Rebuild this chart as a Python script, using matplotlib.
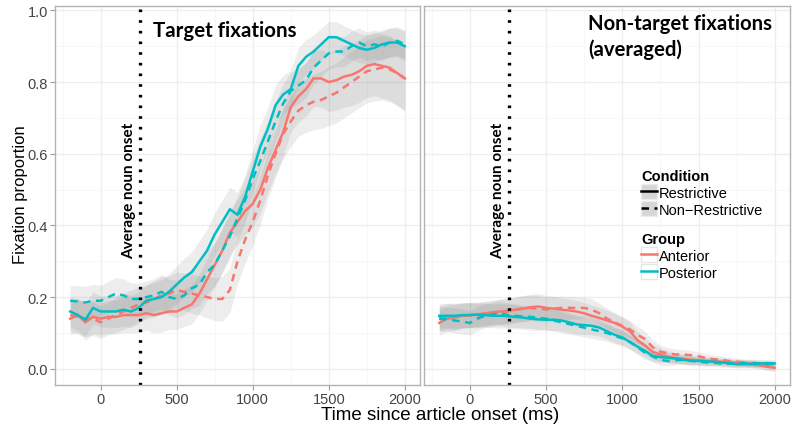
import numpy as np
import matplotlib
matplotlib.use("Agg")
import matplotlib.pyplot as plt
from matplotlib.patches import Rectangle
from matplotlib.lines import Line2D

# ---------------- data ----------------
time_ms = list(range(-200, 2001, 50))

# Target fixations
tgt_post_restr = [.16, .15, .137, .17, .16, .16, .16, .165, .16, .17, .19, .195, .20, .215, .235, .255, .27, .30, .33, .375,
                  .41, .445, .43, .48, .55, .62, .67, .735, .765, .78, .845, .87, .885, .905, .925, .925, .915, .905, .895,
                  .89, .895, .905, .91, .91, .90]
tgt_post_nonr = [.19, .188, .185, .19, .19, .20, .21, .205, .195, .195, .20, .205, .215, .20, .195, .205, .225, .235, .27, .29,
                 .33, .37, .42, .47, .53, .58, .635, .69, .74, .775, .79, .805, .84, .86, .88, .885, .885, .90, .91,
                 .90, .905, .90, .91, .915, .905]
tgt_ant_restr = [.14, .15, .13, .145, .14, .145, .145, .15, .15, .15, .155, .15, .155, .16, .16, .17, .18, .21, .25, .29,
                 .33, .38, .41, .44, .46, .50, .56, .61, .66, .73, .76, .78, .81, .81, .80, .805, .815, .82, .83,
                 .845, .85, .845, .84, .825, .81]
tgt_ant_nonr = [.15, .145, .14, .14, .13, .14, .15, .16, .17, .18, .185, .195, .205, .21, .22, .215, .21, .205, .20, .195,
                .195, .22, .30, .36, .41, .47, .54, .60, .655, .69, .72, .735, .745, .75, .76, .77, .785, .80, .815,
                .83, .835, .84, .835, .825, .81]

# Non-target fixations (averaged)
nt_ant_restr = [.128, .14, .143, .148, .15, .152, .155, .158, .16, .162, .165, .168, .172, .174, .17, .168, .165, .163, .16,
                .155, .148, .142, .135, .128, .118, .105, .08, .065, .047, .04, .034, .03, .028, .025, .024, .022, .021,
                .02, .018, .017, .015, .012, .01, .006, .003]
nt_ant_nonr = [.14, .148, .145, .148, .15, .148, .152, .155, .158, .16, .165, .168, .17, .168, .166, .168, .17, .17, .17,
               .17, .165, .155, .14, .13, .12, .11, .095, .083, .06, .048, .043, .04, .04, .038, .035, .03, .027,
               .025, .022, .02, .018, .015, .012, .008, .005]
nt_post_restr = [.148, .148, .148, .15, .15, .151, .15, .148, .148, .147, .145, .143, .14, .138, .137, .137, .135, .13, .124,
                 .122, .12, .115, .105, .095, .088, .075, .062, .05, .036, .033, .031, .029, .025, .023, .022, .021, .02,
                 .018, .016, .013, .013, .014, .015, .016, .015]
nt_post_nonr = [.14, .138, .135, .132, .128, .14, .148, .152, .155, .15, .148, .146, .145, .142, .14, .135, .13, .125, .12,
                .115, .11, .105, .10, .092, .085, .075, .06, .045, .035, .025, .022, .024, .025, .022, .02, .018, .017,
                .015, .014, .014, .016, .017, .015, .014, .013]

# ribbon half-widths (confidence band) per panel and group
hw_tgt_ant = [.045, .048, .05, .047, .045, .046, .048, .05, .05, .048, .047, .05, .052, .05, .05, .052, .055, .055, .058, .06,
              .062, .062, .064, .065, .065, .066, .066, .066, .068, .07, .072, .075, .078, .08, .082, .084, .085, .086, .087,
              .088, .088, .09, .09, .09, .09]
hw_tgt_post = [.042, .044, .045, .045, .043, .044, .045, .046, .045, .044, .045, .046, .048, .05, .052, .054, .056, .058, .06, .06,
               .062, .062, .062, .062, .06, .06, .058, .056, .054, .052, .05, .048, .046, .045, .044, .043, .042, .042, .041,
               .04, .04, .04, .04, .04, .04]
hw_nt_ant = [.035, .036, .036, .035, .035, .034, .034, .034, .035, .035, .035, .036, .036, .036, .035, .034, .033, .032, .031,
             .03, .03, .029, .028, .027, .026, .025, .024, .022, .02, .018, .016, .015, .014, .013, .012, .012, .011,
             .011, .01, .01, .01, .01, .01, .01, .01]
hw_nt_post = [.034, .034, .035, .035, .034, .034, .033, .033, .034, .034, .033, .032, .032, .031, .03, .03, .029, .028, .027,
              .026, .025, .024, .023, .022, .021, .02, .019, .018, .016, .015, .014, .013, .012, .012, .011, .011, .01,
              .01, .01, .01, .01, .01, .01, .01, .01]

noun_onset = 260
x_ticks = [0, 500, 1000, 1500, 2000]
y_ticks = [0.0, 0.2, 0.4, 0.6, 0.8, 1.0]

RED = "#F8766D"
TEAL = "#00BFC4"
SANS = ["Liberation Sans", "DejaVu Sans"]
BOLD = ["Lato", "DejaVu Sans"]

fig = plt.figure(figsize=(8.0, 4.31), dpi=100)
W, H = 800.0, 431.0
axL = fig.add_axes([55 / W, 1 - 386 / H, 365 / W, 379 / H])
axR = fig.add_axes([424 / W, 1 - 386 / H, 366 / W, 379 / H])

t = np.array(time_ms)
dash = (0, (3, 2.2))

panels = [
    (axL, [(tgt_ant_restr, tgt_ant_nonr, hw_tgt_ant, RED), (tgt_post_restr, tgt_post_nonr, hw_tgt_post, TEAL)]),
    (axR, [(nt_ant_restr, nt_ant_nonr, hw_nt_ant, RED), (nt_post_restr, nt_post_nonr, hw_nt_post, TEAL)]),
]

for ax, groups in panels:
    ax.set_xlim(-300, 2100)
    ax.set_ylim(-0.045, 1.012)
    ax.set_xticks(x_ticks)
    ax.set_yticks(y_ticks)
    ax.set_xticks([-250, 250, 750, 1250, 1750], minor=True)
    ax.set_yticks([0.1, 0.3, 0.5, 0.7, 0.9], minor=True)
    ax.grid(True, which="major", color="#ededed", lw=0.9)
    ax.grid(True, which="minor", color="#f6f6f6", lw=0.6)
    ax.set_axisbelow(True)
    for s in ax.spines.values():
        s.set_color("#b3b3b3")
        s.set_linewidth(1.0)
    ax.tick_params(which="minor", length=0)
    ax.tick_params(which="major", length=3.5, color="#9a9a9a", labelcolor="#444444", labelsize=10.5, pad=1.5)
    for lab in ax.get_xticklabels() + ax.get_yticklabels():
        lab.set_family(SANS)
    for restr, nonr, hw, col in groups:
        for series in (restr, nonr):
            y = np.array(series)
            h = np.array(hw)
            ax.fill_between(t, y - h, y + h, color="0.5", alpha=0.14, lw=0)
    for restr, nonr, hw, col in groups:
        ax.plot(t, restr, color=col, lw=1.8, solid_joinstyle="miter")
        ax.plot(t, nonr, color=col, lw=1.8, linestyle=dash)
    ax.axvline(noun_onset, color="black", lw=2.4, linestyle=(0, (0.8, 2.4)))
    ax.text(185, 0.5, "Average noun onset", rotation=90, ha="center", va="center",
            fontsize=11, fontweight="bold", family=BOLD)

axL.yaxis.set_major_formatter(matplotlib.ticker.FormatStrFormatter("%.1f"))
axR.tick_params(axis="y", which="major", length=0, labelleft=False)

axL.text(347, 0.945, "Target fixations", ha="left", va="center", fontsize=14.8, fontweight="bold", family=BOLD)
axR.text(775, 0.992, "Non-target fixations\n(averaged)", ha="left", va="top", fontsize=14.6,
         fontweight="bold", family=BOLD, linespacing=1.3)

fig.text(440 / W, 1 - 416 / H, "Time since article onset (ms)", ha="center", va="center", fontsize=13.5, family=SANS)
fig.text(21 / W, 1 - 195 / H, "Fixation proportion", ha="center", va="center", rotation=90, fontsize=12, family=SANS)

# legends
cond_handles = [
    (Rectangle((0, 0), 1, 1, fc="#d6d6d6", ec="#ececec"), Line2D([], [], color="black", lw=1.8)),
    (Rectangle((0, 0), 1, 1, fc="#d6d6d6", ec="#ececec"), Line2D([], [], color="black", lw=1.8, linestyle=dash)),
]
group_handles = [
    (Rectangle((0, 0), 1, 1, fc="white", ec="#e6e6e6"), Line2D([], [], color=RED, lw=1.8)),
    (Rectangle((0, 0), 1, 1, fc="white", ec="#e6e6e6"), Line2D([], [], color=TEAL, lw=1.8)),
]
common = dict(loc="upper left", bbox_transform=fig.transFigure, frameon=False, alignment="left",
              prop={"family": SANS, "size": 10.5}, title_fontproperties={"family": SANS, "size": 10.5, "weight": "bold"},
              handlelength=1.1, handleheight=1.2, handletextpad=0.15, labelspacing=0.1, borderpad=0, borderaxespad=0)
leg1 = axR.legend(cond_handles, ["Restrictive", "Non\u2212Restrictive"], title="Condition",
                  bbox_to_anchor=(641 / W, 1 - 170 / H), **common)
axR.add_artist(leg1)
leg2 = axR.legend(group_handles, ["Anterior", "Posterior"], title="Group",
                  bbox_to_anchor=(641 / W, 1 - 233 / H), **common)

fig.savefig("out.png", dpi=100)
